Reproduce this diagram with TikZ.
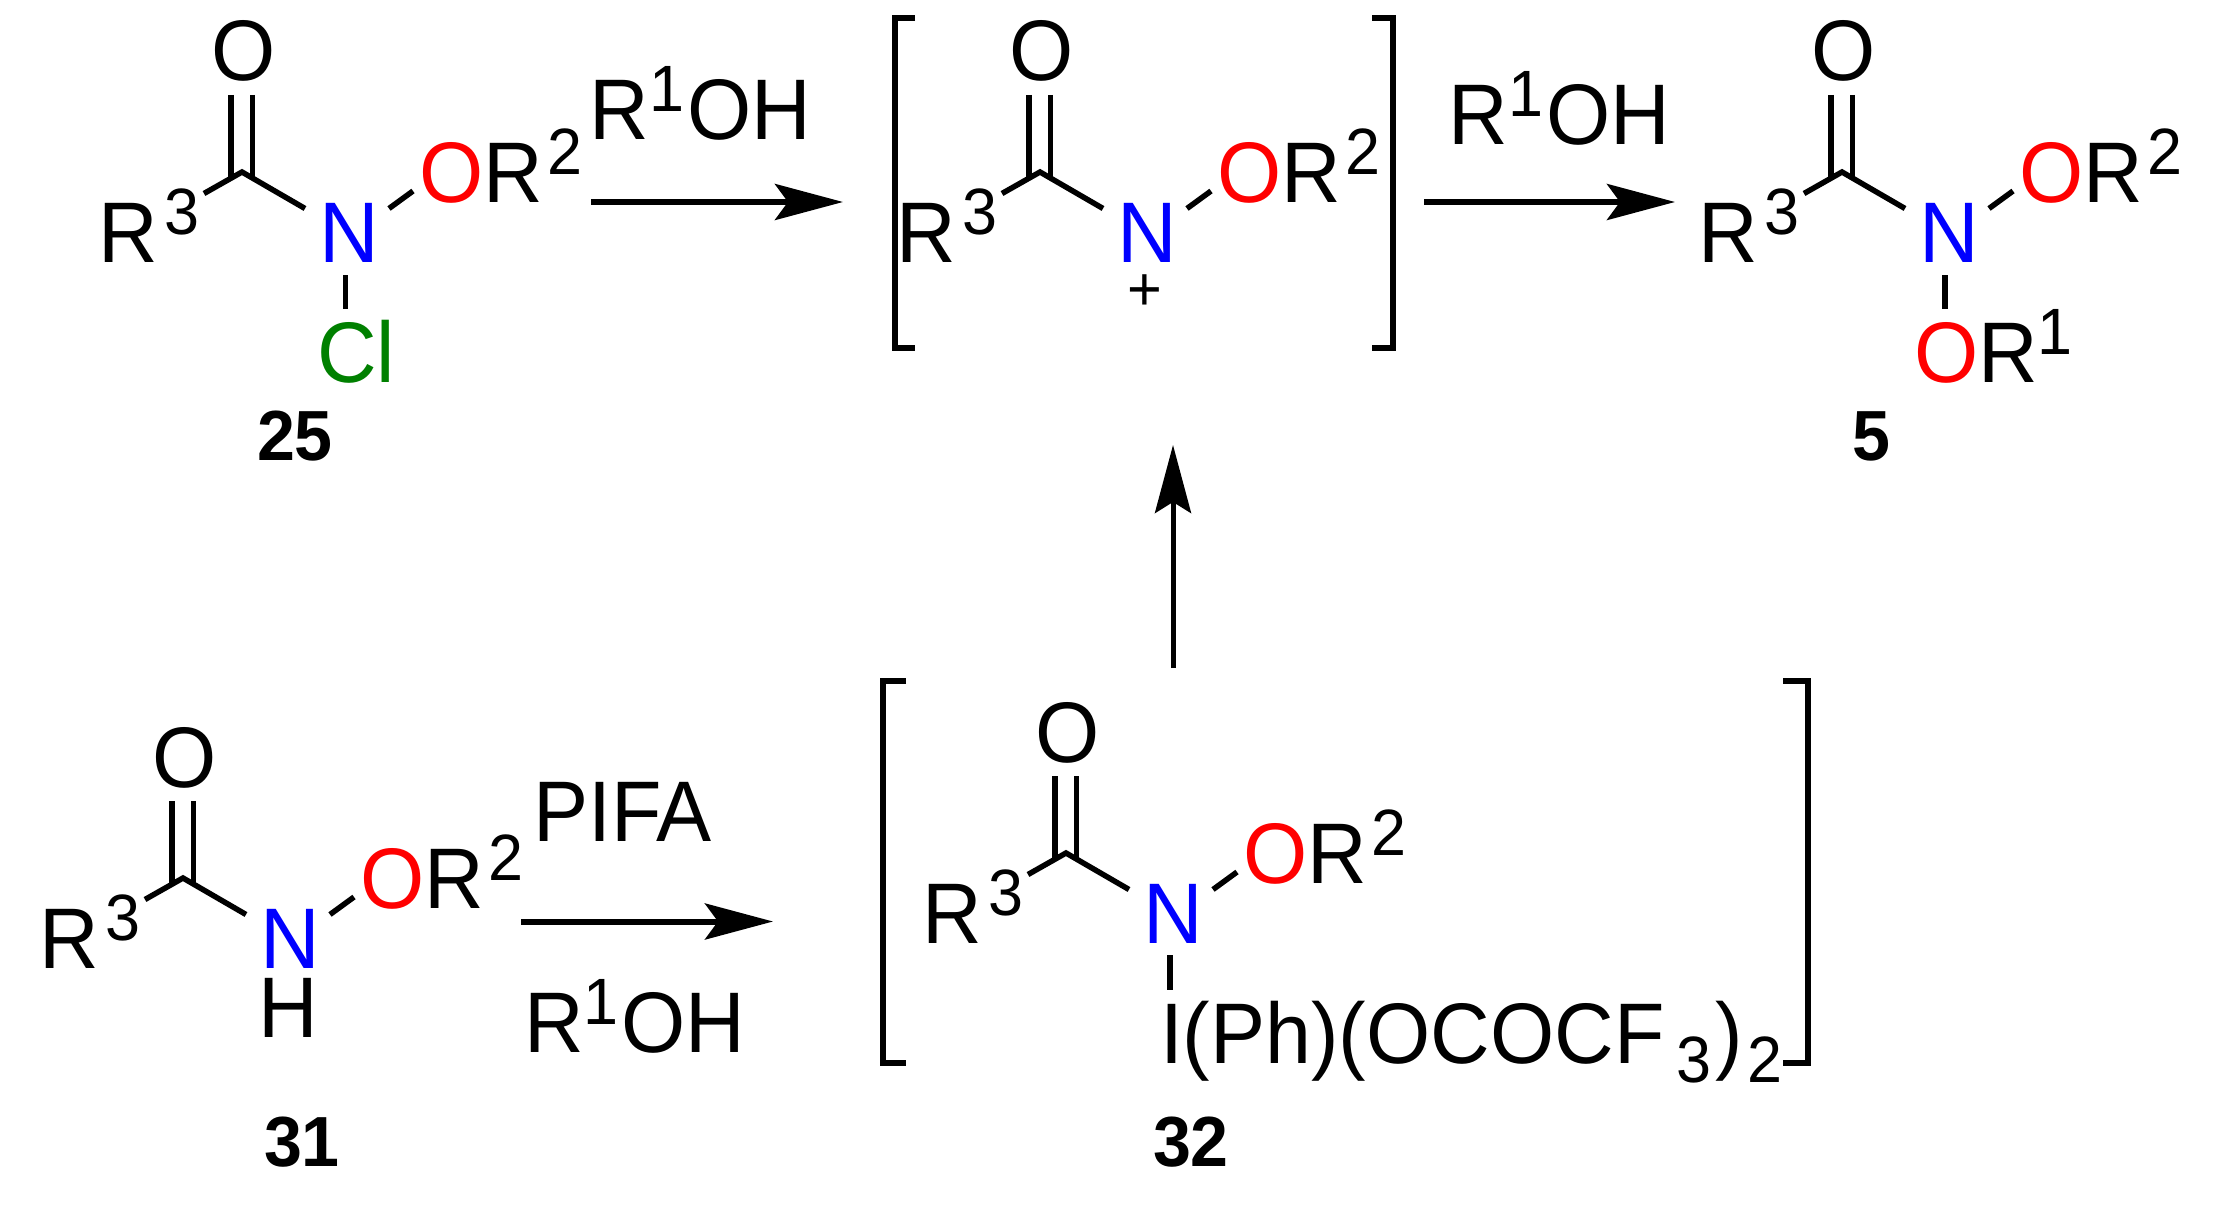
\documentclass[tikz,border=0pt]{standalone}
\usepackage{fontspec}
\setmainfont[FakeStretch=0.96]{Liberation Sans}
\usetikzlibrary{arrows.meta}
\definecolor{clgreen}{RGB}{0,128,0}
\newcommand\mainfs{\fontsize{86}{90}\selectfont}
\newcommand\supfs{\fontsize{65.5}{68}\selectfont}
\newcommand\numfs{\fontsize{71}{74}\selectfont\bfseries}
\newcommand\upd[1]{\raisebox{28pt}{\supfs #1}}
\newcommand\dnd[1]{\raisebox{-19pt}{\supfs #1}}
\tikzset{
  x=1pt,y=-1pt,
  atom/.style={anchor=base west,inner sep=0pt,outer sep=0pt,font=\mainfs,text=black},
  cmpd/.style={anchor=base west,inner sep=0pt,outer sep=0pt,font=\numfs,text=black},
  bond/.style={line width=5.5pt,line cap=butt,line join=miter,draw=black},
  rxn/.style={line width=6pt,draw=black,-{Stealth[length=68pt,width=36pt,inset=13pt]}},
  rxnup/.style={line width=5pt,draw=black,-{Stealth[length=68pt,width=36pt,inset=11pt]}},
  brk/.style={line width=6pt,line cap=butt,line join=miter,draw=black},
}
% #1 prefix, #2 dx, #3 dy
\newcommand\amide[3]{%
 \begin{scope}[shift={(#2,#3)}]
  \node[atom] (#1O) at (211,81) {O};
  \node[atom] (#1R) at (98.5,262) {R\kern6pt\upd{3}};
  \node[atom,text=blue] (#1N) at (319,262) {N};
  \node[atom] (#1OR) at (419,202) {\textcolor{red}{O}R\kern5pt\upd{2}};
  \coordinate (#1C) at (242,172);
  \coordinate (#1a) at (204,193.5);
  \coordinate (#1b) at (305,208.5);
  \coordinate (#1c) at (389,208.5);
  \coordinate (#1d) at (413,191);
  \coordinate (#1e) at (231,95);
  \coordinate (#1f) at (231,178.5);
  \coordinate (#1g) at (252.5,95);
  \coordinate (#1h) at (252.5,178.5);
  \draw[bond] (#1a) -- (#1C) -- (#1b);
  \draw[bond] (#1c) -- (#1d);
  \draw[bond] (#1e) -- (#1f);
  \draw[bond] (#1g) -- (#1h);
 \end{scope}}
\begin{document}
\begin{tikzpicture}
\useasboundingbox (0,0) rectangle (2226,1209);
\fill[white] (0,0) rectangle (2226,1209);
% 25
\amide{a}{0}{0}
\node[atom,text=clgreen] (aCl) at (317,382) {Cl};
\coordinate (aN1) at (345.5,275);
\coordinate (aN2) at (345.5,309);
\draw[bond] (aN1) -- (aN2);
\node[cmpd] (n25) at (257,460) {25};
% intermediate
\amide{b}{798}{0}
\node[inner sep=0pt,font=\fontsize{62}{62}\selectfont] (plus) at (1145,293) {+};
\coordinate (bl1) at (915,18); \coordinate (bl2) at (895,18);
\coordinate (bl3) at (895,348); \coordinate (bl4) at (915,348);
\draw[brk] (bl1) -- (bl2) -- (bl3) -- (bl4);
\coordinate (br1) at (1372,18); \coordinate (br2) at (1393,18);
\coordinate (br3) at (1393,348); \coordinate (br4) at (1372,348);
\draw[brk] (br1) -- (br2) -- (br3) -- (br4);
% product 5
\amide{c}{1600}{0}
\node[atom] (cOR) at (1914,382) {\textcolor{red}{O}R\upd{1}};
\coordinate (cN1) at (1945,275);
\coordinate (cN2) at (1945,309);
\draw[bond] (cN1) -- (cN2);
\node[cmpd] (n5) at (1852,460) {5};
% 31
\amide{d}{-59}{706}
\node[atom] (dH) at (258,1037) {H};
\node[cmpd] (n31) at (264,1166) {31};
% 32
\amide{e}{824}{681}
\node[atom] (eI) at (1160,1063) {I(Ph)(OCOCF\kern12pt\dnd{3}\kern4pt)\kern5pt\dnd{2}};
\coordinate (eN1) at (1170,955);
\coordinate (eN2) at (1170,990);
\draw[bond] (eN1) -- (eN2);
\node[cmpd] (n32) at (1153,1166) {32};
\coordinate (el1) at (906,681); \coordinate (el2) at (883,681);
\coordinate (el3) at (883,1063); \coordinate (el4) at (906,1063);
\draw[brk] (el1) -- (el2) -- (el3) -- (el4);
\coordinate (er1) at (1783,681); \coordinate (er2) at (1808,681);
\coordinate (er3) at (1808,1063); \coordinate (er4) at (1783,1063);
\draw[brk] (er1) -- (er2) -- (er3) -- (er4);
% reagents
\node[atom] (r1) at (589.5,140) {R\upd{1}\kern3ptOH};
\node[atom] (r2) at (1448.5,145) {R\upd{1}\kern3ptOH};
\node[atom] (r3) at (524,1052) {R\upd{1}\kern3ptOH};
\node[atom] (pifa) at (533,841) {PIFA};
% arrows
\coordinate (s1) at (591,202); \coordinate (t1) at (843,202);
\draw[rxn] (s1) -- (t1);
\coordinate (s2) at (1424,202); \coordinate (t2) at (1675,202);
\draw[rxn] (s2) -- (t2);
\coordinate (s3) at (521,921.5); \coordinate (t3) at (773,921.5);
\draw[rxn] (s3) -- (t3);
\coordinate (s4) at (1173,668); \coordinate (t4) at (1173,445);
\draw[rxnup] (s4) -- (t4);
\end{tikzpicture}
\end{document}
